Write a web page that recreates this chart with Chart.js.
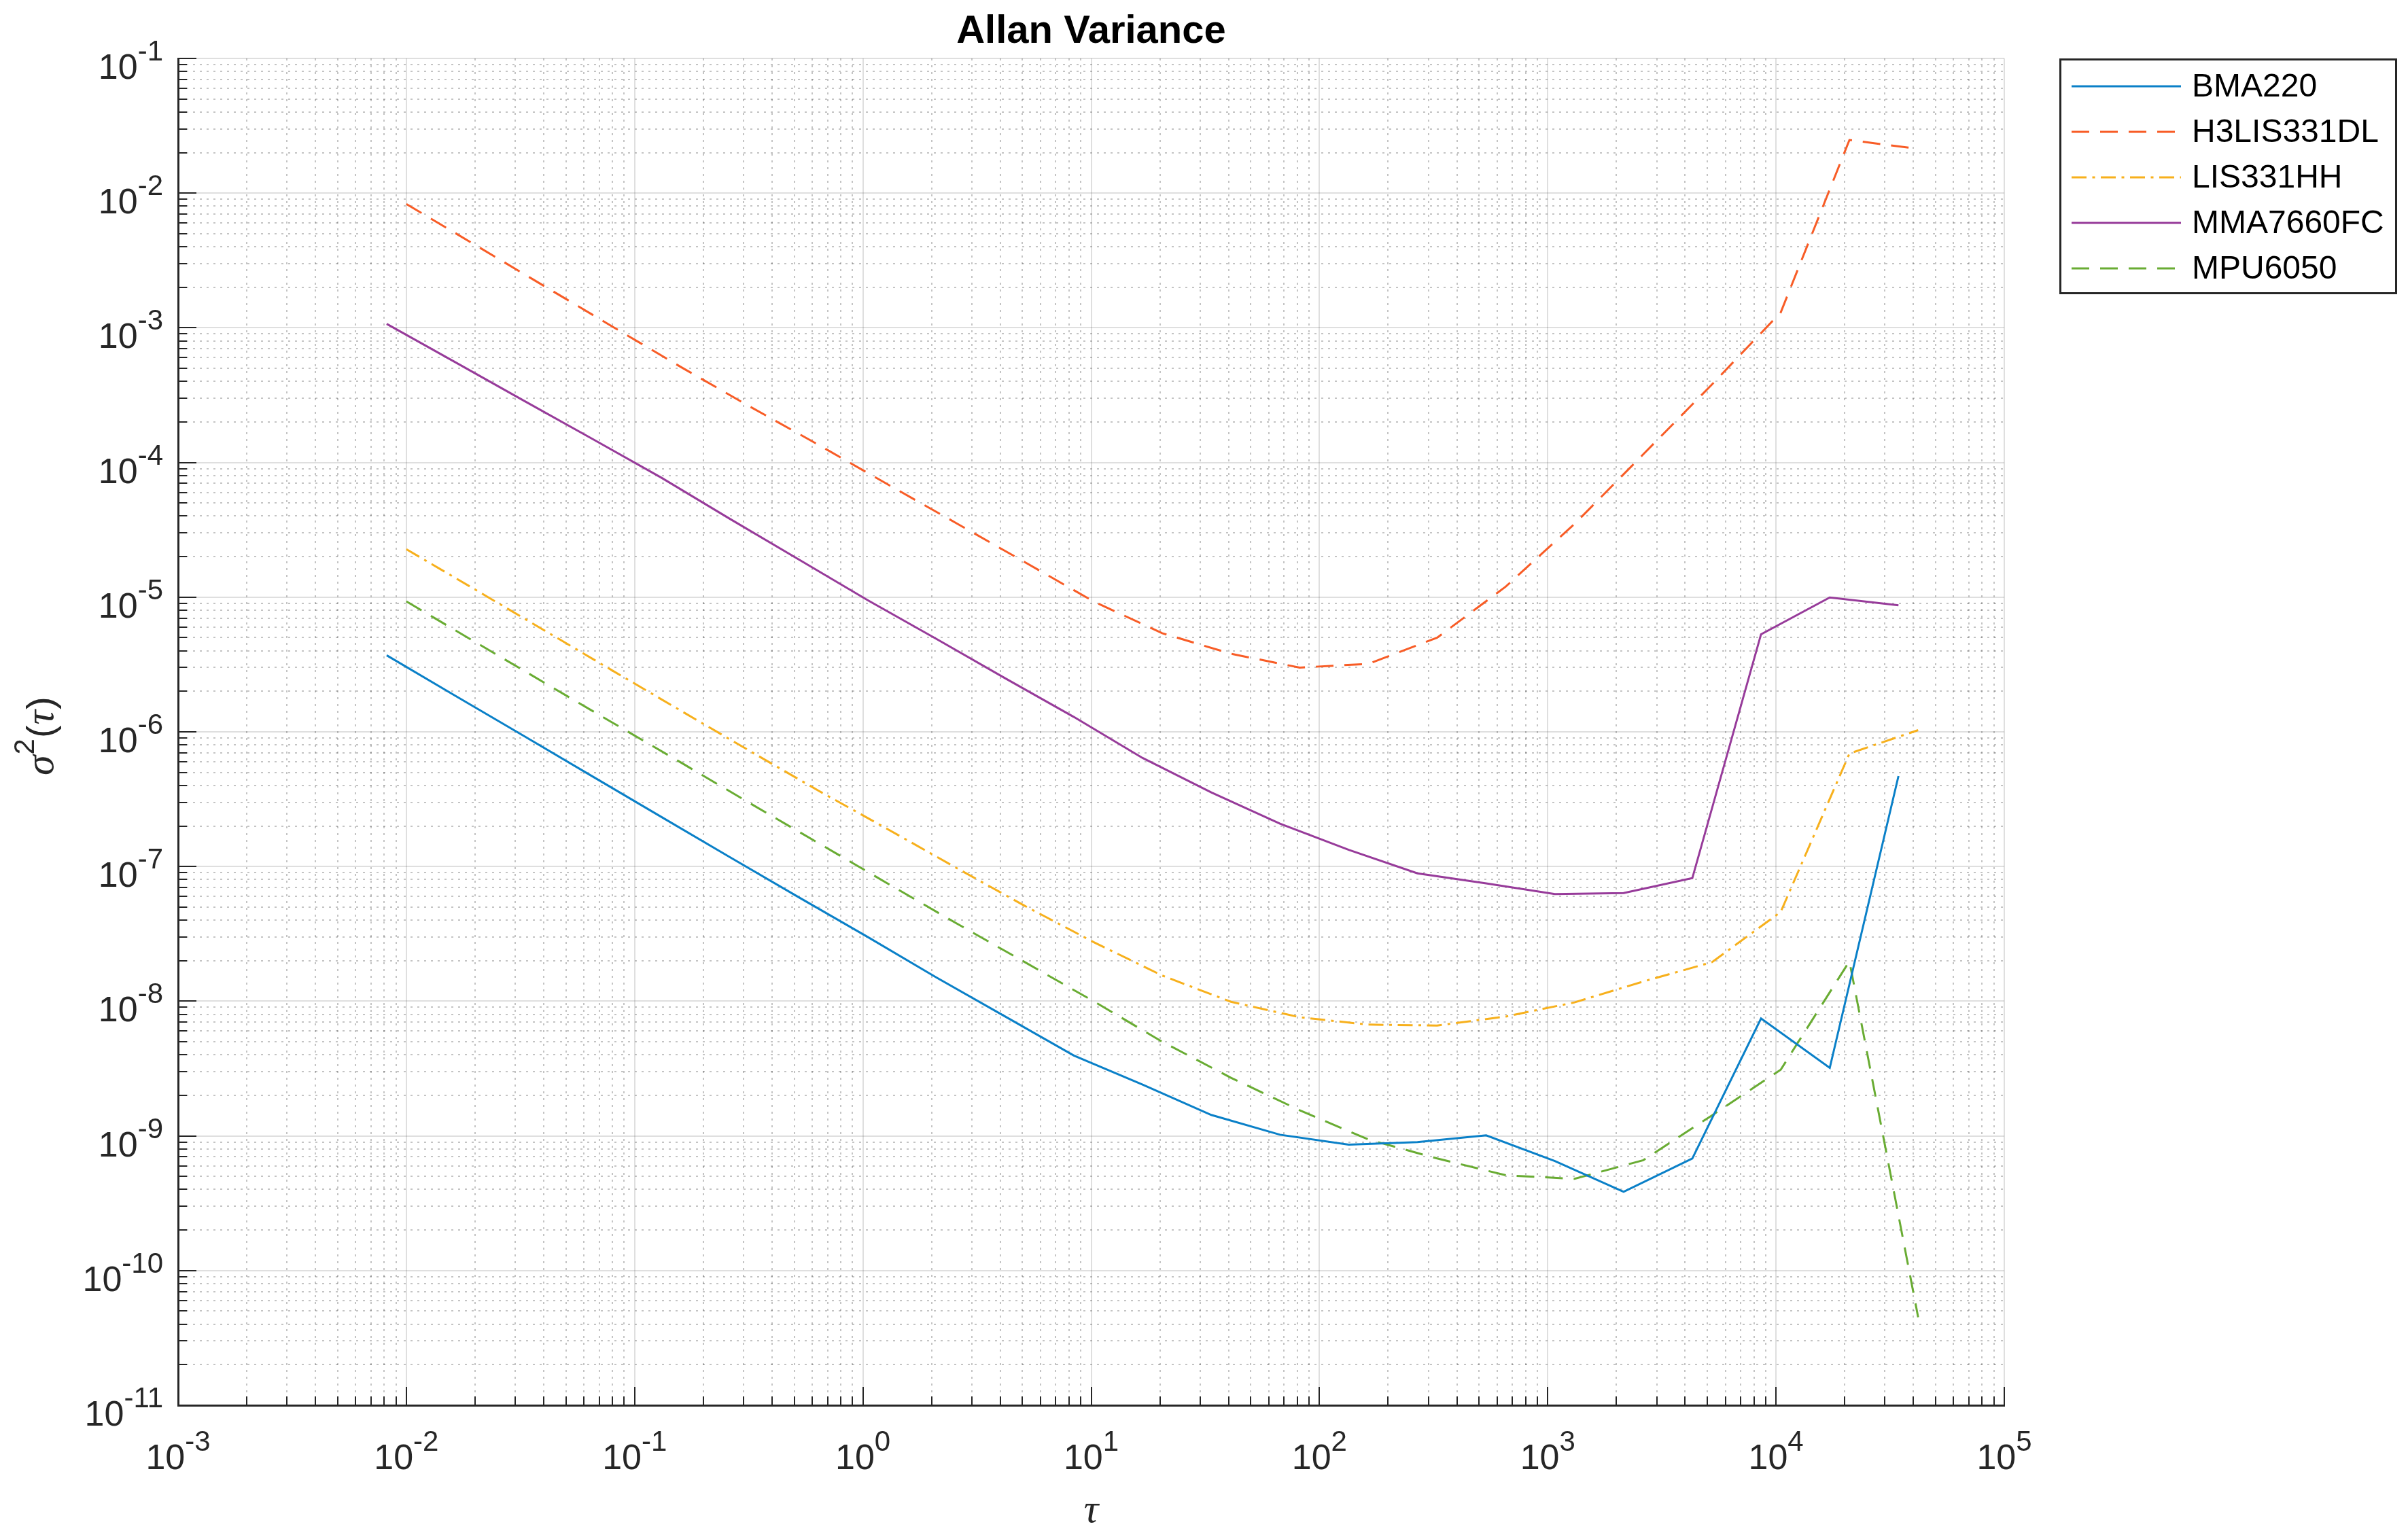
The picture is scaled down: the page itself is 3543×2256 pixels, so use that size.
<!DOCTYPE html>
<html>
<head>
<meta charset="utf-8">
<title>Allan Variance</title>
<script src="https://cdn.jsdelivr.net/npm/chart.js@4.4.0/dist/chart.umd.min.js"></script>
<style>
  html, body { margin: 0; padding: 0; background: #ffffff; }
  #wrap { width: 3543px; height: 2256px; }
</style>
</head>
<body>
<div id="wrap"><canvas id="allanChart" width="3543" height="2256"></canvas></div>
<script>
// averaging times (s); BMA220 and MMA7660FC start at 0.0082 s, the rest at 0.01 s
const tauShort = [0.0082, 0.0164, 0.0328, 0.0656, 0.1312, 0.2624, 0.5248, 1.0496, 2.0992, 4.1984,
  8.3968, 16.794, 33.587, 67.174, 134.35, 268.70, 537.40, 1074.8, 2149.6, 4299.2, 8598.3, 17197, 34393];
const tauLong = [0.01, 0.02, 0.04, 0.08, 0.16, 0.32, 0.64, 1.28, 2.56, 5.12,
  10.24, 20.48, 40.96, 81.92, 163.84, 327.68, 655.36, 1310.7, 2621.4, 5242.9, 10486, 20972, 41943];

// sigma^2(tau)
const bma220 = [3.7e-6, 1.85e-6, 9.3e-7, 4.65e-7, 2.33e-7, 1.17e-7, 5.9e-8, 3.0e-8, 1.5e-8, 7.7e-9,
  3.95e-9, 2.4e-9, 1.43e-9, 1.02e-9, 8.6e-10, 9.0e-10, 1.01e-9, 6.5e-10, 3.85e-10, 6.8e-10, 7.45e-9, 3.2e-9, 4.7e-7];
const h3lis331dl = [8.3e-3, 4.13e-3, 2.05e-3, 1.02e-3, 5.1e-4, 2.6e-4, 1.35e-4, 6.9e-5, 3.55e-5, 1.82e-5,
  9.3e-6, 5.4e-6, 3.8e-6, 3.0e-6, 3.2e-6, 5.0e-6, 1.2e-5, 3.5e-5, 1.15e-4, 3.8e-4, 1.3e-3, 2.48e-2, 2.13e-2];
const lis331hh = [2.27e-5, 1.14e-5, 5.7e-6, 2.85e-6, 1.43e-6, 7.2e-7, 3.65e-7, 1.9e-7, 9.8e-8, 5.1e-8,
  2.75e-8, 1.55e-8, 9.9e-9, 7.6e-9, 6.7e-9, 6.6e-9, 7.7e-9, 9.8e-9, 1.4e-8, 1.95e-8, 4.6e-8, 6.9e-7, 1.03e-6];
const mma7660fc = [1.07e-3, 5.55e-4, 2.87e-4, 1.49e-4, 7.7e-5, 3.8e-5, 1.9e-5, 9.5e-6, 4.9e-6, 2.5e-6,
  1.29e-6, 6.4e-7, 3.55e-7, 2.08e-7, 1.33e-7, 8.9e-8, 7.5e-8, 6.25e-8, 6.35e-8, 8.2e-8, 5.3e-6, 9.95e-6, 8.7e-6];
const mpu6050 = [9.3e-6, 4.65e-6, 2.33e-6, 1.17e-6, 5.9e-7, 2.95e-7, 1.49e-7, 7.5e-8, 3.8e-8, 1.95e-8,
  1.0e-8, 5.0e-9, 2.7e-9, 1.55e-9, 9.4e-10, 6.8e-10, 5.1e-10, 4.8e-10, 6.6e-10, 1.42e-9, 3.1e-9, 1.98e-8, 4.5e-11];

const seriesNames = ['BMA220', 'H3LIS331DL', 'LIS331HH', 'MMA7660FC', 'MPU6050'];
const seriesColors = ['#0a80c8', '#f85c26', '#f7b01c', '#973b9a', '#69ac33'];
const seriesDash = [[], [26, 16], [22, 8.5, 4, 8.5], [], [26, 16]];

// decade exponents used for the tick labels
const xTickExps = [-3, -2, -1, 0, 1, 2, 3, 4, 5];
const yTickExps = [-11, -10, -9, -8, -7, -6, -5, -4, -3, -2, -1];

const FONT = "'Liberation Sans', Arial, Helvetica, sans-serif";
const SERIF = "'Liberation Serif', 'DejaVu Serif', serif";

function pow10(e) { return parseFloat(Math.pow(10, e).toPrecision(12)); }

// major + minor ticks (1..9 x 10^n) for a log axis
function logTicks(exps) {
  const out = [];
  for (let i = 0; i < exps.length; i++) {
    const e = exps[i];
    out.push({ value: pow10(e), major: true });
    if (i < exps.length - 1) {
      for (let m = 2; m <= 9; m++) {
        out.push({ value: parseFloat((m * Math.pow(10, e)).toPrecision(12)), major: false });
      }
    }
  }
  return out;
}

function pairUp(taus, vals) {
  return taus.map((t, i) => ({ x: t, y: vals[i] }));
}

const allSeries = [
  pairUp(tauShort, bma220),
  pairUp(tauLong, h3lis331dl),
  pairUp(tauLong, lis331hh),
  pairUp(tauShort, mma7660fc),
  pairUp(tauLong, mpu6050)
];

const gridColor = ctx => (ctx.tick && ctx.tick.major) ? 'rgba(38,38,38,0.15)' : 'rgba(38,38,38,0.27)';
const gridDash = ctx => (ctx.type === 'tick' && ctx.tick && !ctx.tick.major) ? [3, 7] : [];

// draws the MATLAB style extras: inward ticks, 10^n labels, title, axis labels, legend
const matlabDeco = {
  id: 'matlabDeco',
  afterDatasetsDraw(chart) {
    const ctx = chart.ctx;
    const xs = chart.scales.x;
    const ys = chart.scales.y;
    const a = chart.chartArea;
    ctx.save();
    ctx.strokeStyle = '#262626';
    ctx.lineWidth = 2;
    xs.ticks.forEach(t => {
      const px = Math.round(xs.getPixelForValue(t.value));
      const len = t.major ? 27 : 13;
      ctx.beginPath();
      ctx.moveTo(px, a.bottom);
      ctx.lineTo(px, a.bottom - len);
      ctx.stroke();
    });
    ys.ticks.forEach(t => {
      const py = Math.round(ys.getPixelForValue(t.value));
      const len = t.major ? 27 : 13;
      ctx.beginPath();
      ctx.moveTo(a.left, py);
      ctx.lineTo(a.left + len, py);
      ctx.stroke();
    });

    // tick labels 10^n
    ctx.fillStyle = '#262626';
    ctx.textBaseline = 'alphabetic';
    ctx.textAlign = 'left';
    const baseFont = '52px ' + FONT;
    const expFont = '42px ' + FONT;
    xTickExps.forEach(e => {
      const px = xs.getPixelForValue(pow10(e));
      ctx.font = baseFont;
      const w1 = ctx.measureText('10').width;
      ctx.font = expFont;
      const w2 = ctx.measureText(String(e)).width;
      const x0 = px - (w1 + w2) / 2;
      ctx.font = baseFont;
      ctx.fillText('10', x0, a.bottom + 94);
      ctx.font = expFont;
      ctx.fillText(String(e), x0 + w1, a.bottom + 67);
    });
    yTickExps.forEach(e => {
      const py = ys.getPixelForValue(pow10(e));
      ctx.font = baseFont;
      const w1 = ctx.measureText('10').width;
      ctx.font = expFont;
      const w2 = ctx.measureText(String(e)).width;
      const x0 = a.left - 22 - (w1 + w2);
      ctx.font = baseFont;
      ctx.fillText('10', x0, py + 30);
      ctx.font = expFont;
      ctx.fillText(String(e), x0 + w1, py + 3);
    });

    // title
    ctx.fillStyle = '#000000';
    ctx.font = 'bold 58px ' + FONT;
    ctx.textAlign = 'center';
    ctx.fillText('Allan Variance', (a.left + a.right) / 2, 63);

    // x label
    ctx.fillStyle = '#262626';
    ctx.font = 'italic 60px ' + SERIF;
    ctx.fillText('\u03c4', (a.left + a.right) / 2, 2240);

    // y label, rotated
    ctx.save();
    ctx.translate(78, 1141);
    ctx.rotate(-Math.PI / 2);
    ctx.textAlign = 'left';
    const parts = [
      { t: '\u03c3', f: 'italic 60px ' + SERIF, dy: 0 },
      { t: '2', f: '42px ' + FONT, dy: -28 },
      { t: '(', f: '56px ' + FONT, dy: 0 },
      { t: '\u03c4', f: 'italic 60px ' + SERIF, dy: 0 },
      { t: ')', f: '56px ' + FONT, dy: 0 }
    ];
    let cx = 0;
    parts.forEach(p => {
      ctx.font = p.f;
      ctx.fillText(p.t, cx, p.dy);
      cx += ctx.measureText(p.t).width + 1;
    });
    ctx.restore();

    // legend
    const lx = 3031, ly = 87, lw = 494, lh = 344;
    ctx.fillStyle = '#ffffff';
    ctx.fillRect(lx, ly, lw, lh);
    ctx.strokeStyle = '#262626';
    ctx.lineWidth = 3;
    ctx.setLineDash([]);
    ctx.strokeRect(lx + 0.5, ly + 0.5, lw, lh);
    const rowY = [127, 194, 261, 328, 395];
    ctx.font = '48px ' + FONT;
    ctx.textAlign = 'left';
    ctx.textBaseline = 'middle';
    seriesNames.forEach((name, i) => {
      ctx.strokeStyle = seriesColors[i];
      ctx.lineWidth = 3;
      ctx.setLineDash(seriesDash[i]);
      ctx.beginPath();
      ctx.moveTo(3048, rowY[i]);
      ctx.lineTo(3209, rowY[i]);
      ctx.stroke();
      ctx.setLineDash([]);
      ctx.fillStyle = '#000000';
      ctx.fillText(name, 3225, rowY[i] + 2);
    });
    ctx.restore();
  }
};

const ctx = document.getElementById('allanChart').getContext('2d');

new Chart(ctx, {
  type: 'scatter',
  data: {
    datasets: seriesNames.map((name, i) => ({
      label: name,
      data: allSeries[i],
      showLine: true,
      borderColor: seriesColors[i],
      backgroundColor: seriesColors[i],
      borderWidth: 3,
      borderDash: seriesDash[i],
      pointRadius: 0,
      pointHoverRadius: 0,
      tension: 0,
      fill: false
    }))
  },
  options: {
    responsive: false,
    animation: false,
    devicePixelRatio: 1,
    events: [],
    layout: {
      padding: { left: 262, top: 86, right: 594, bottom: 188 }
    },
    plugins: {
      legend: { display: false },
      title: { display: false },
      tooltip: { enabled: false }
    },
    scales: {
      x: {
        type: 'logarithmic',
        position: 'bottom',
        min: 1e-3,
        max: 1e5,
        afterBuildTicks: axis => { axis.ticks = logTicks(xTickExps); },
        ticks: { display: false },
        grid: { drawTicks: false, color: gridColor, lineWidth: 2 },
        border: { display: true, color: '#262626', width: 3, dash: gridDash }
      },
      y: {
        type: 'logarithmic',
        position: 'left',
        min: 1e-11,
        max: 1e-1,
        afterBuildTicks: axis => { axis.ticks = logTicks(yTickExps); },
        ticks: { display: false },
        grid: { drawTicks: false, color: gridColor, lineWidth: 2 },
        border: { display: true, color: '#262626', width: 3, dash: gridDash }
      }
    }
  },
  plugins: [matlabDeco]
});
</script>
</body>
</html>
